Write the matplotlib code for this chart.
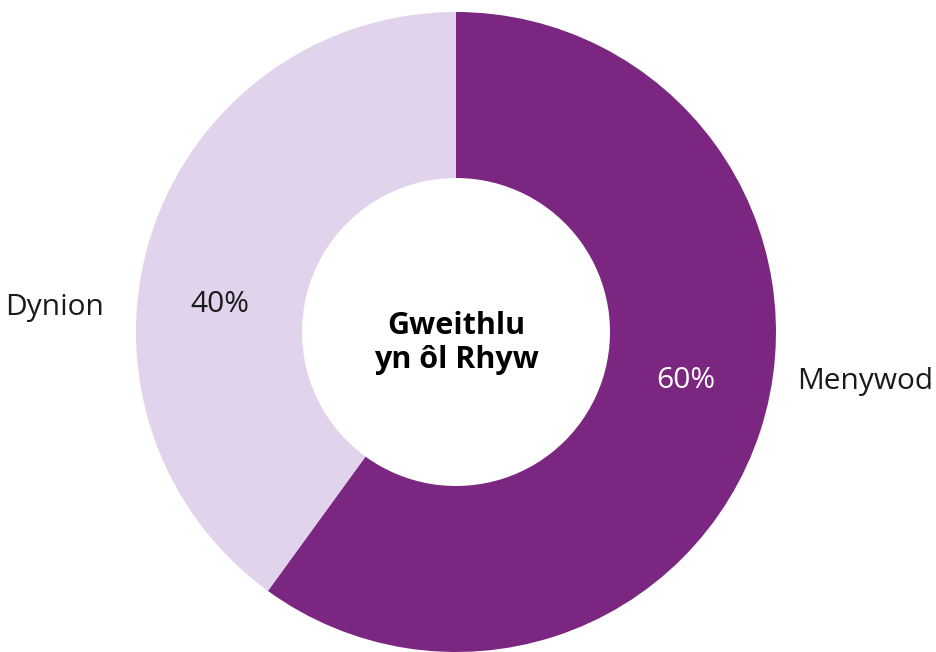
import matplotlib
matplotlib.use("Agg")
import matplotlib.pyplot as plt

categories = ["Menywod", "Dynion"]
values = [60, 40]
pct_labels = ["60%", "40%"]
colors = ["#7B2680", "#E1D3EB"]
center_title = "Gweithlu\nyn ôl Rhyw"

W, H = 936, 652
fig = plt.figure(figsize=(W / 100, H / 100), dpi=100)
ax = fig.add_axes([0, 0, 1, 1])

cx, cy = 456, H - 332
R = 320
ax.pie(values, colors=colors, startangle=90, counterclock=False,
       center=(cx, cy), radius=R, frame=True,
       wedgeprops=dict(width=166, linewidth=0))
ax.set_xlim(0, W)
ax.set_ylim(0, H)
ax.set_aspect("equal")
ax.axis("off")

font = "Open Sans"
fs = 21.5
# percent labels
ax.text(686, H - 381, pct_labels[0], color="white", fontsize=fs, family=font,
        ha="center", va="center")
ax.text(220, H - 305, pct_labels[1], color="#1a1a1a", fontsize=fs, family=font,
        ha="center", va="center")
# category labels
ax.text(797, H - 381, categories[0], color="#1a1a1a", fontsize=fs, family=font,
        ha="left", va="center")
ax.text(104, H - 307, categories[1], color="#1a1a1a", fontsize=fs, family=font,
        ha="right", va="center")
ax.text(cx, H - 343, center_title, color="black", fontsize=22, family=font,
        fontweight="bold", ha="center", va="center", linespacing=1.15)

fig.savefig("out.png", dpi=100)
